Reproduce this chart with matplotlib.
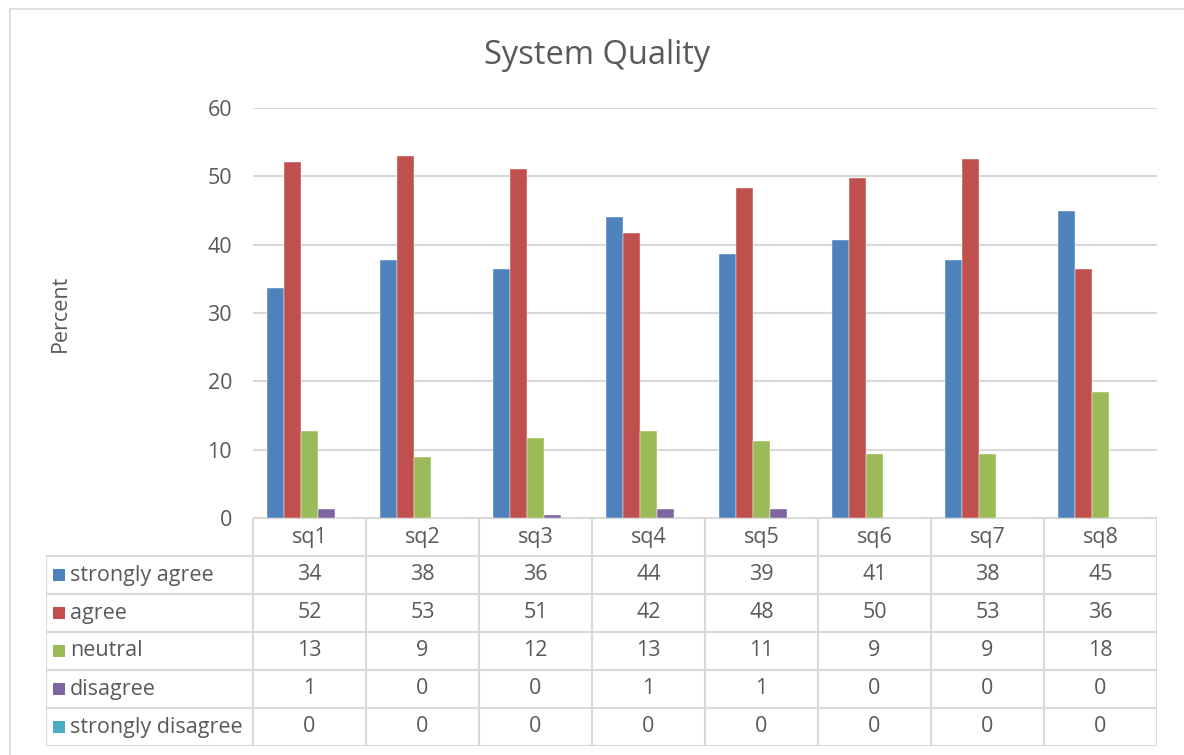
import numpy as np
import matplotlib.pyplot as plt
from matplotlib.patches import Rectangle

plt.rcParams['font.family'] = ['Open Sans', 'DejaVu Sans']

categories = ['sq1', 'sq2', 'sq3', 'sq4', 'sq5', 'sq6', 'sq7', 'sq8']
strongly_agree = [33.6, 37.8, 36.4, 44.0, 38.7, 40.7, 37.8, 44.9]
agree = [52.1, 53.0, 51.1, 41.7, 48.3, 49.7, 52.6, 36.4]
neutral = [12.7, 8.9, 11.7, 12.7, 11.2, 9.4, 9.4, 18.4]
disagree = [1.3, 0.0, 0.4, 1.3, 1.3, 0.0, 0.0, 0.0]
strongly_disagree = [0, 0, 0, 0, 0, 0, 0, 0]

series = [
    ('strongly agree', strongly_agree, '#4F81BD'),
    ('agree', agree, '#C0504D'),
    ('neutral', neutral, '#9BBB59'),
    ('disagree', disagree, '#8064A2'),
    ('strongly disagree', strongly_disagree, '#4BACC6'),
]

W, H = 1184, 755
grid_c = '#D9D9D9'
text_c = '#595959'
fs = 15.5

fig = plt.figure(figsize=(W / 100, H / 100), dpi=100)

# outer chart frame
fig.patches.append(Rectangle((10 / W, -0.02), 1.1, 1 - 9 / H + 0.02,
                             transform=fig.transFigure, fill=False,
                             edgecolor=grid_c, lw=1.2))

def px_box(x0, y0, x1, y1):
    return [x0 / W, 1 - y1 / H, (x1 - x0) / W, (y1 - y0) / H]

# bar chart
ax = fig.add_axes(px_box(253, 108, 1157, 518))
x = np.arange(len(categories))
bw = 0.15
for i, (name, vals, col) in enumerate(series):
    ax.bar(x + (i - 2) * bw, vals, width=bw, color=col, zorder=3,
           edgecolor='white', linewidth=0.3)
ax.set_xlim(-0.5, len(categories) - 0.5)
ax.set_ylim(0, 60)
ax.set_yticks(range(0, 61, 10))
ax.set_xticks([])
ax.tick_params(axis='y', length=0, pad=15, labelsize=fs, labelcolor=text_c)
ax.grid(axis='y', color=grid_c, lw=1.5, zorder=0)
for s in ax.spines.values():
    s.set_visible(False)

fig.text(597 / W, 1 - 55 / H, 'System Quality', ha='center', va='center',
         fontsize=23.5, color=text_c)
fig.text(60 / W, 1 - 313 / H, 'Percent', ha='center', va='center',
         rotation=90, fontsize=fs, color=text_c)

# data table under the bars
tax = fig.add_axes(px_box(46, 518, 1157, 746))
lab_w = (253 - 46) / 113
left = -0.5 - lab_w
n = len(categories)
tax.set_xlim(left, n - 0.5)
tax.set_ylim(6, 0)
tax.axis('off')

lk = dict(color=grid_c, lw=1.5, solid_capstyle='projecting')
tax.plot([-0.5, n - 0.5], [0, 0], **lk)
for r in range(1, 7):
    tax.plot([left, n - 0.5], [r, r], **lk)
tax.plot([left, left], [1, 6], **lk)
for k in range(n + 1):
    tax.plot([k - 0.5, k - 0.5], [0, 6], **lk)

for j, c in enumerate(categories):
    tax.text(j, 0.5, c, ha='center', va='center', fontsize=fs, color=text_c)

for i, (name, vals, col) in enumerate(series):
    row = i + 1.5
    tax.add_patch(Rectangle((left + 7 / 113, row - 0.16), 12 / 113, 0.32,
                            color=col, lw=0))
    tax.text(left + 24 / 113, row, name, ha='left', va='center',
             fontsize=fs, color=text_c)
    for j, v in enumerate(vals):
        tax.text(j, row, f'{v:.0f}', ha='center', va='center',
                 fontsize=fs, color=text_c)

fig.savefig('out.png', dpi=100)
